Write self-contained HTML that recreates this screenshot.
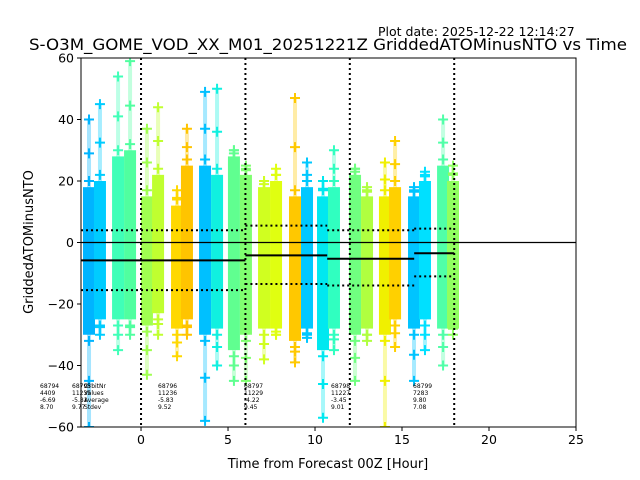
<!DOCTYPE html>
<html><head><meta charset="utf-8"><style>
body{margin:0;background:#fff;}
svg{display:block;font-family:"DejaVu Sans","Liberation Sans",sans-serif;}
</style></head><body>
<svg id="chart" width="640" height="480" viewBox="0 0 640 480" xmlns="http://www.w3.org/2000/svg">
<text x="378" y="36" font-size="12.5">Plot date: 2025-12-22 12:14:27</text>
<text x="328" y="50" font-size="16.2" text-anchor="middle" textLength="598" lengthAdjust="spacingAndGlyphs">S-O3M_GOME_VOD_XX_M01_20251221Z GriddedATOMinusNTO vs Time</text>
<g id="marks"></g>
<g id="axes"></g>
<text x="328" y="468" font-size="13" text-anchor="middle">Time from Forecast 00Z [Hour]</text>
<text transform="translate(33,242) rotate(-90)" font-size="13" text-anchor="middle">GriddedATOMinusNTO</text>
</svg>
<script>
const colHours=[-2.99,-2.36,-1.32,-0.63,0.34,0.98,2.07,2.64,3.68,4.37,5.34,6.03,7.07,7.76,8.85,9.54,10.46,11.09,12.3,12.99,14.02,14.6,15.69,16.32,17.36,17.93];
const colTop=[18,20,28,30,15,22,12,25,25,22,28,22,18,20,15,18,15,18,22,15,15,18,15,20,25,20];
const colBot=[-30,-25,-25,-25,-27,-23,-28,-25,-30,-28,-35,-30,-28,-28,-32,-28,-35,-28,-30,-28,-30,-25,-28,-25,-28,-28];
const colMax=[40,45,54,59,37,44,17,37,49,50,30,25,20,24,47,26,20,30,24,18,26,33,18,23,40,25];
const colMin=[-60,-30,-35,-30,-43,-30,-37,-30,-58,-40,-45,-45,-38,-30,-39,-31,-57,-35,-45,-32,-60,-34,-45,-35,-40,-28];
const colColors=["#00b4ff","#00ccff","#40ffb8","#50ffa0","#a0ff50","#c0ff30","#ffd800","#ffc400","#00c0ff","#10f0e0","#60ff90","#80ff70","#d0ff20","#e0ff10","#ffc800","#00c8ff","#00e8f0","#30ffc0","#70ff80","#b0ff40","#f0f000","#ffd000","#00c4ff","#00e0ff","#50ffa8","#90ff60"];
const segStart=[-3.45,6,10.7,15.7];
const segEnd=[6,10.7,15.7,18];
const segMean=[-5.8,-4.2,-5.3,-3.5];
const segUpper=[4,5.5,4,4.5];
const segLower=[-15.5,-13.5,-14,-11];
const xTicks=[0,5,10,15,20,25];
const yTicks=[-60,-40,-20,0,20,40,60];
const vLines=[0,6,12,18];
const annX=[40,72,158,244,331,413];
const annLines=[["68794","4409","-6.69","8.70"],["68795","11235","-5.81","9.77"],["68796","11236","-5.83","9.52"],["68797","11229","-4.22","9.45"],["68798","11227","-3.45","9.01"],["68799","7283","9.80","7.08"]];
const L=81,R=576,T=58,B=427;
const xs=h=>L+(h+3.45)*(R-L)/28.45;
const ys=v=>T+(60-v)*(B-T)/120;
const NS="http://www.w3.org/2000/svg";
function mk(tag,attrs,parent){const e=document.createElementNS(NS,tag);for(const k in attrs)e.setAttribute(k,attrs[k]);parent.appendChild(e);return e;}
const marks=document.getElementById('marks'),axes=document.getElementById('axes');
colHours.forEach((h,i)=>{
  const x=xs(h),c=colColors[i];
  const g=mk('g',{},marks);
  
  
  mk('rect',{x:x-2,y:ys(colMax[i]),width:4,height:ys(colMin[i])-ys(colMax[i]),fill:c,opacity:0.35},g);
  mk('rect',{x:x-6,y:ys(colTop[i]),width:12,height:ys(colBot[i])-ys(colTop[i]),fill:c},g);
  const vals=[colMax[i],colMin[i],(colMax[i]+colTop[i])/2,(colMin[i]+colBot[i])/2,colTop[i]+2,colBot[i]-2];
  vals.forEach(v=>{
    const y=ys(v);
    mk('path',{d:`M${x-5} ${y}H${x+5}M${x} ${y-5}V${y+5}`,stroke:c,'stroke-width':2},g);
  });
});
const clip=mk('clipPath',{id:'pc'},marks);mk('rect',{x:L,y:T,width:R-L,height:B-T},clip);
marks.setAttribute('clip-path','url(#pc)');
const zl=mk('line',{x1:L,x2:R,y1:ys(0),y2:ys(0),stroke:'#000','stroke-width':1.2},axes);

vLines.forEach(h=>{const l=mk('line',{x1:xs(h),x2:xs(h),y1:T,y2:B,stroke:'#000','stroke-width':2,'stroke-dasharray':'2,3'},axes);
});
segStart.forEach((s,i)=>{
  const x1=xs(s),x2=xs(segEnd[i]);
  const m=mk('line',{x1,x2,y1:ys(segMean[i]),y2:ys(segMean[i]),stroke:'#000','stroke-width':2},axes);
  
  [segUpper[i],segLower[i]].forEach(v=>{const d=mk('line',{x1,x2,y1:ys(v),y2:ys(v),stroke:'#000','stroke-width':2,'stroke-dasharray':'2,3'},axes);
  });
});
const fr=mk('rect',{x:L,y:T,width:R-L,height:B-T,fill:'none',stroke:'#000','stroke-width':1},axes);

xTicks.forEach(t=>{const x=xs(t);mk('line',{x1:x,x2:x,y1:B,y2:B+4,stroke:'#000'},axes);
const tx=mk('text',{x,y:B+17,'font-size':12.5,'text-anchor':'middle'},axes);tx.textContent=t;
});
yTicks.forEach(t=>{const y=ys(t);mk('line',{x1:L-4,x2:L,y1:y,y2:y,stroke:'#000'},axes);
const tx=mk('text',{x:L-7,y:y+4.5,'font-size':12.5,'text-anchor':'end'},axes);tx.textContent=t<0?'\u2212'+(-t):t;
});
function ann(x,lines,anchor){lines.forEach((s,j)=>{const t=mk('text',{x,y:388+j*7,'font-size':6,'text-anchor':anchor||'start'},axes);t.textContent=s;
});}
annX.forEach((x,i)=>ann(x,annLines[i]));
ann(84,["OrbitNr","Values","Average","Stdev"]);
</script>
</body></html>
